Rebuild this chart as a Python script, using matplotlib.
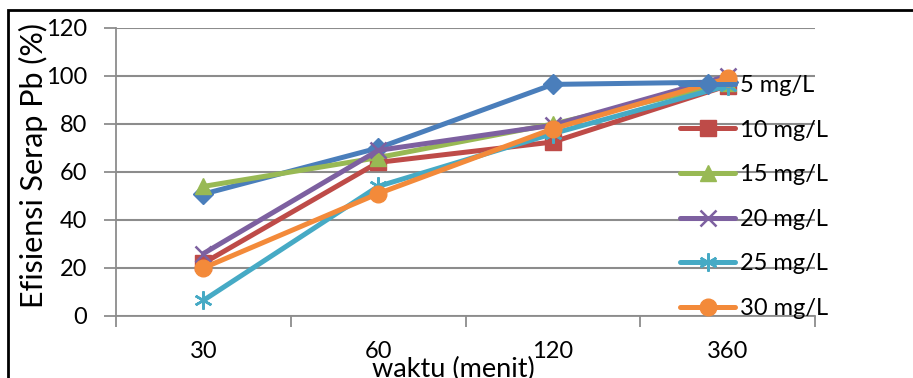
import matplotlib
matplotlib.use("Agg")
import matplotlib.pyplot as plt
from matplotlib.patches import Rectangle

# Contact time categories (minutes) and adsorption efficiency (%) per initial concentration
waktu = ["30", "60", "120", "360"]
c5 = [50.8, 70.0, 96.5, 97.5]
c10 = [22.0, 64.0, 72.5, 96.0]
c15 = [54.0, 66.0, 80.0, 97.0]
c20 = [26.0, 69.0, 79.5, 100.0]
c25 = [6.5, 54.0, 76.0, 96.0]
c30 = [20.0, 51.0, 78.0, 99.0]
labels = ["5 mg/L", "10 mg/L", "15 mg/L", "20 mg/L", "25 mg/L", "30 mg/L"]

plt.rcParams['font.family'] = ['Lato', 'DejaVu Sans']

fig = plt.figure(figsize=(9.13, 3.78), dpi=100)
ax = fig.add_axes([116/913, 1-316/378, (815-116)/913, (316-28)/378])

series = [c5, c10, c15, c20, c25, c30]
colors = ["#4A7EBB", "#BE4B48", "#98B954", "#7D60A0", "#46AAC5", "#F38A3A"]
markers = ["D", "s", "^", "x", (6, 2, 0), "o"]
msizes = [10, 11, 11, 12, 13, 12]

x = list(range(len(waktu)))
for vals, col, mk, ms, lab in zip(series, colors, markers, msizes, labels):
    ax.plot(x, vals, color=col, lw=3.6, marker=mk, ms=ms, mew=1.8 if mk in ("x", (6, 2, 0)) else 1,
            mec=col, mfc=col, label=lab, solid_capstyle="round", solid_joinstyle="round")

ax.set_xlim(-0.5, 3.5)
ax.set_ylim(0, 120)
ax.set_yticks(range(0, 121, 20))
ax.set_xticks(x)
ax.set_xticklabels(waktu)
ax.set_xticks([-0.5, 0.5, 1.5, 2.5, 3.5], minor=True)
ax.tick_params(axis="x", which="major", length=0, labelsize=17, pad=18)
ax.tick_params(axis="x", which="minor", length=8, width=1.3, color="#8c8c8c", direction="out")
ax.tick_params(axis="y", length=9, width=1.3, color="#8c8c8c", labelsize=17, pad=12)
ax.grid(axis="y", color="#8c8c8c", lw=1.5)
ax.set_axisbelow(True)
for s in ("top", "right"):
    ax.spines[s].set_visible(False)
for s in ("left", "bottom"):
    ax.spines[s].set_color("#8c8c8c")
    ax.spines[s].set_linewidth(1.3)

fig.text(33/913, 1-166/378, "Efisiensi Serap Pb (%)", rotation=90, ha="center", va="center", fontsize=22)
fig.text(453/913, 1-357/378, "waktu (menit)", ha="center", va="top", fontsize=19.5)

leg = ax.legend(loc="upper left", bbox_to_anchor=(680/913, 1-75/378), bbox_transform=fig.transFigure,
                frameon=False, fontsize=17, handlelength=2.35, handletextpad=0.2,
                labelspacing=1.0, borderaxespad=0, borderpad=0)

fig.patches.append(Rectangle((8/913, -0.1), 1.2, 1-10/378+0.1, transform=fig.transFigure,
                             fill=False, ec="black", lw=2))

fig.savefig("out.png", dpi=100)
